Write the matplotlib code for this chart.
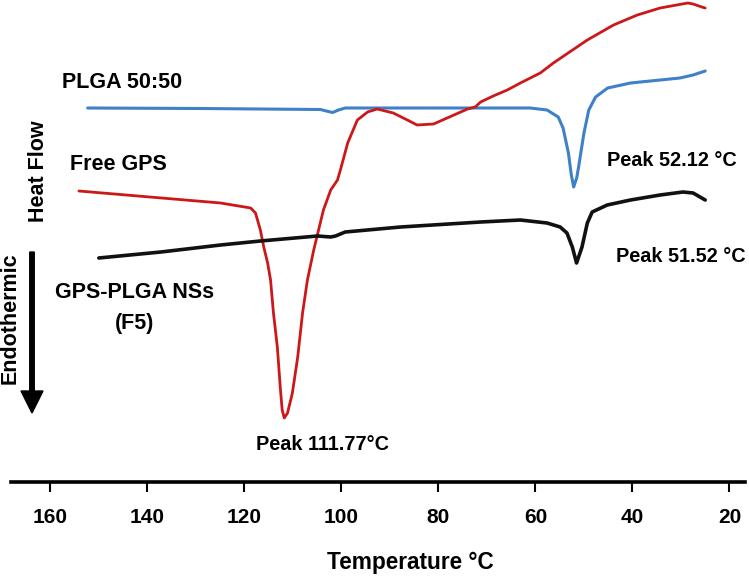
import matplotlib
matplotlib.use("Agg")
import matplotlib.pyplot as plt
from matplotlib.patches import FancyArrow

plt.rcParams['font.family'] = ['Liberation Sans', 'DejaVu Sans']
plt.rcParams['font.weight'] = 'bold'

# Temperature (°C) and heat flow (a.u.) for each thermogram
plga_T = [152.3, 129.0, 104.3, 103.1, 101.8, 100.6, 99.2, 77.5, 61.1, 57.6, 55.3, 54.3, 53.2, 52.6, 52.12,
          51.5, 51.1, 50.0, 49.0, 47.6, 45.1, 40.4, 34.3, 30.2, 27.5, 25.0]
plga_hf = [39.2, 39.15, 39.05, 38.9, 38.75, 39.0, 39.2, 39.2, 39.2, 39.0, 38.3, 37.2, 34.7, 32.5, 31.3,
           32.2, 33.3, 36.7, 39.0, 40.3, 41.2, 41.7, 42.0, 42.2, 42.5, 42.9]

gps_T = [154.1, 124.9, 118.7, 117.7, 116.7, 116.0, 115.2, 114.6, 114.0, 113.2, 112.6, 112.2, 111.77,
         111.1, 110.1, 109.0, 108.0, 107.0, 105.7, 104.7, 103.7, 102.2, 100.8, 100.2, 98.7, 96.7, 94.6,
         92.6, 89.3, 86.4, 84.4, 81.0, 78.2, 74.0, 72.4, 71.3, 68.7, 65.8, 63.1, 59.0, 56.3, 49.3, 43.9,
         39.0, 34.3, 28.6, 27.5, 25.7, 25.0]
gps_hf = [30.9, 29.7, 29.2, 28.7, 27.0, 25.3, 23.7, 22.0, 18.7, 15.3, 11.3, 9.0, 8.2,
          8.7, 10.7, 14.3, 18.7, 22.0, 25.0, 27.0, 29.0, 31.0, 32.0, 33.0, 35.7, 38.0, 38.8,
          39.1, 38.7, 38.0, 37.5, 37.6, 38.2, 39.1, 39.3, 39.8, 40.4, 41.0, 41.7, 42.7, 43.7, 46.0, 47.5,
          48.5, 49.2, 49.7, 49.6, 49.3, 49.2]

ns_T = [150.0, 137.2, 124.9, 116.7, 104.9, 102.2, 101.2, 99.2, 87.8, 71.3, 63.1, 57.6, 54.9, 53.5, 52.4,
        51.52, 50.4, 49.3, 48.3, 45.2, 40.4, 34.3, 29.6, 27.5, 25.0]
ns_hf = [24.2, 24.8, 25.5, 25.9, 26.4, 26.3, 26.4, 26.8, 27.3, 27.8, 28.0, 27.7, 27.3, 26.7, 25.3,
         23.7, 25.3, 27.7, 28.8, 29.5, 30.0, 30.5, 30.8, 30.7, 30.0]

xticks = [160, 140, 120, 100, 80, 60, 40, 20]

W, H = 749, 577
fig = plt.figure(figsize=(W / 100, H / 100), dpi=100)
ax = fig.add_axes([11 / W, 1 - 482 / H, 734 / W, 482 / H])

ax.plot(plga_T, plga_hf, color='#3f80c8', lw=2.2, solid_joinstyle='round', solid_capstyle='round')
ax.plot(gps_T, gps_hf, color='#cc1818', lw=2.0, solid_joinstyle='round', solid_capstyle='round')
ax.plot(ns_T, ns_hf, color='#111111', lw=2.6, solid_joinstyle='round', solid_capstyle='round')

ax.set_xlim(168.1, 16.8)
ax.set_ylim(1.8, 50.0)
ax.set_xticks(xticks)
ax.set_xticklabels([str(t) for t in xticks], fontsize=15, fontweight='bold')
ax.set_yticks([])
for s in ['top', 'left', 'right']:
    ax.spines[s].set_visible(False)
ax.spines['bottom'].set_linewidth(2.6)
ax.tick_params(axis='x', direction='out', length=7.5, width=1.5, pad=11)


def ftext(px, py, s, **kw):
    fig.text(px / W, 1 - py / H, s, fontweight='bold', **kw)


ftext(410, 563, 'Temperature °C', fontsize=16.3, ha='center', va='center')
ftext(62, 83, 'PLGA 50:50', fontsize=15.5, ha='left', va='center')
ftext(70, 164, 'Free GPS', fontsize=15.5, ha='left', va='center')
ftext(39, 171, 'Heat Flow', fontsize=15.5, ha='center', va='center', rotation=90)
ftext(10, 318, 'Endothermic', fontsize=15.5, ha='center', va='center', rotation=90)
ftext(135, 293, 'GPS-PLGA NSs', fontsize=15.5, ha='center', va='center')
ftext(135, 324, '(F5)', fontsize=15.5, ha='center', va='center')
ftext(322, 445, 'Peak 111.77°C', fontsize=14.3, ha='center', va='center')
ftext(672, 160, 'Peak 52.12 °C', fontsize=14.3, ha='center', va='center')
ftext(681, 257, 'Peak 51.52 °C', fontsize=14.3, ha='center', va='center')

fig.patches.append(FancyArrow(
    32 / W, 1 - 252 / H, 0, -(161 / H), width=4.5 / W, head_width=22 / W,
    head_length=22 / H, length_includes_head=True, color='black',
    transform=fig.transFigure, figure=fig))

fig.savefig('out.png', dpi=100)
